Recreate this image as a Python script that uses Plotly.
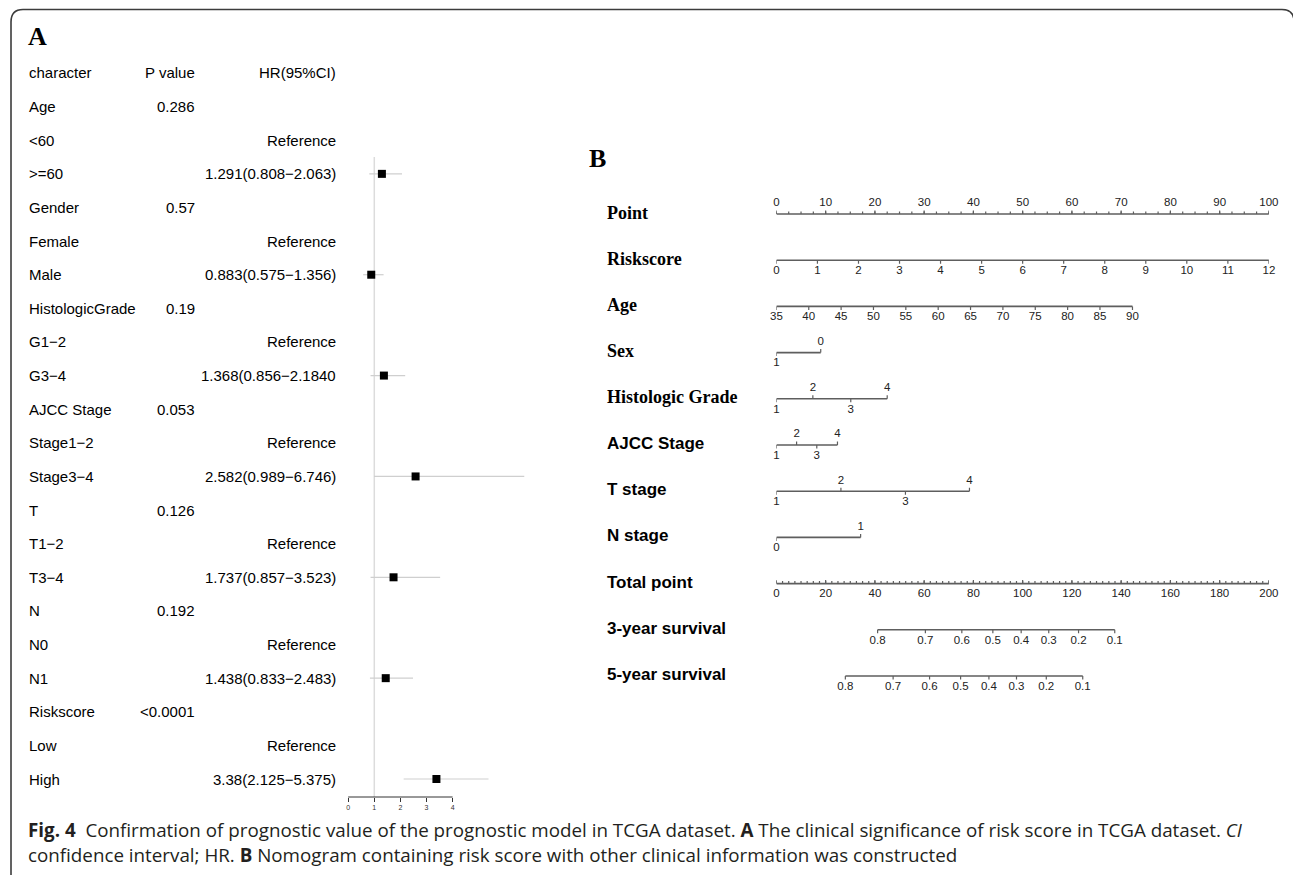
import numpy as np
import plotly.graph_objects as go

W, H = 1293, 875

# ---------------- Panel A : forest table data ----------------
row_labels = ["character", "Age", "<60", ">=60", "Gender", "Female", "Male",
              "HistologicGrade", "G1−2", "G3−4", "AJCC Stage", "Stage1−2", "Stage3−4",
              "T", "T1−2", "T3−4", "N", "N0", "N1", "Riskscore", "Low", "High"]
p_values = ["P value", "0.286", "", "", "0.57", "", "", "0.19", "", "", "0.053", "", "",
            "0.126", "", "", "0.192", "", "", "<0.0001", "", ""]
hr_labels = ["HR(95%CI)", "", "Reference", "1.291(0.808−2.063)", "", "Reference",
             "0.883(0.575−1.356)", "", "Reference", "1.368(0.856−2.1840", "", "Reference",
             "2.582(0.989−6.746)", "", "Reference", "1.737(0.857−3.523)", "", "Reference",
             "1.438(0.833−2.483)", "", "Reference", "3.38(2.125−5.375)"]
est_rows = [">=60", "Male", "G3−4", "Stage3−4", "T3−4", "N1", "High"]
hr = [1.291, 0.883, 1.368, 2.582, 1.737, 1.438, 3.38]
ci_low = [0.808, 0.575, 0.856, 0.989, 0.857, 0.833, 2.125]
ci_high = [2.063, 1.356, 2.184, 6.746, 3.523, 2.483, 5.375]
forest_ticks = [0, 1, 2, 3, 4]
ref_value = 1

# ---------------- Panel B : nomogram data ----------------
nomo_rows = ["Point", "Riskscore", "Age", "Sex", "Histologic Grade", "AJCC Stage",
             "T stage", "N stage", "Total point", "3-year survival", "5-year survival"]
point_ticks = [0, 10, 20, 30, 40, 50, 60, 70, 80, 90, 100]
riskscore_vals = ["0", "1", "2", "3", "4", "5", "6", "7", "8", "9", "10", "11", "12"]
riskscore_pts = [0, 8.33, 16.67, 25, 33.33, 41.67, 50, 58.33, 66.67, 75, 83.33, 91.67, 100]
age_vals = ["35", "40", "45", "50", "55", "60", "65", "70", "75", "80", "85", "90"]
age_pts = [0, 6.57, 13.14, 19.71, 26.28, 32.85, 39.42, 45.99, 52.56, 59.13, 65.7, 72.3]
sex_vals = ["1", "0"]
sex_pts = [0, 9.0]
grade_vals = ["1", "2", "3", "4"]
grade_pts = [0, 7.4, 15.1, 22.5]
ajcc_vals = ["1", "2", "3", "4"]
ajcc_pts = [0, 4.1, 8.2, 12.4]
t_vals = ["1", "2", "3", "4"]
t_pts = [0, 13.1, 26.2, 39.2]
n_vals = ["0", "1"]
n_pts = [0, 17.1]
total_ticks = [0, 20, 40, 60, 80, 100, 120, 140, 160, 180, 200]
surv_labels = ["0.8", "0.7", "0.6", "0.5", "0.4", "0.3", "0.2", "0.1"]
surv3_total = [41.1, 60.5, 75.3, 87.9, 99.4, 110.6, 122.7, 137.4]
surv5_total = [28.0, 47.4, 62.2, 74.8, 86.3, 97.5, 109.6, 124.4]

# ---------------- geometry helpers (layout only) ----------------
def xdom(a, b):
    return [a / W, b / W]

def ydom(top, bottom):
    return [1 - bottom / H, 1 - top / H]

# forest axes
FX0, FX_PX0, FX_SCALE = 290, 348.2, 26.1          # value 0 at 348.2 px
FX1 = 560
FY_TOP, FY_BOT, FY_ROW0, FY_STEP = 45, 797, 73, 33.62
f_xrange = [(FX0 - FX_PX0) / FX_SCALE, (FX1 - FX_PX0) / FX_SCALE]
f_yrange = [(FY_BOT - FY_ROW0) / FY_STEP, (FY_TOP - FY_ROW0) / FY_STEP]

# nomogram axes
NX0, NX1 = 776.4, 1268.9
NY_TOP, NY_BOT, NY_ROW0, NY_STEP = 180, 705, 214, 46.2
n_yrange = [(NY_BOT - NY_ROW0) / NY_STEP, (NY_TOP - NY_ROW0) / NY_STEP]
px_row = 1.0 / NY_STEP   # one pixel in row units

LINE_C = "#5e5e5e"
TXT_C = "#222222"

fig = go.Figure()

# ---------------- Panel A traces ----------------
ys = [row_labels.index(r) for r in est_rows]
fig.add_trace(go.Scatter(
    x=hr, y=ys, mode="markers", xaxis="x", yaxis="y", cliponaxis=False,
    marker=dict(symbol="square", size=8, color="black"),
    error_x=dict(type="data", symmetric=False,
                 array=[h - m for h, m in zip(ci_high, hr)],
                 arrayminus=[m - l for m, l in zip(hr, ci_low)],
                 width=0, color="#cfcfcf", thickness=1.2),
    hoverinfo="skip"))

shapes = []
# reference line at HR = 1
shapes.append(dict(type="line", xref="x", yref="y", x0=ref_value, x1=ref_value,
                   y0=2.5, y1=f_yrange[0], line=dict(color="#dcdcdc", width=1.5), layer="below"))
# forest axis line
shapes.append(dict(type="line", xref="x", yref="y domain", x0=forest_ticks[0], x1=forest_ticks[-1],
                   y0=0, y1=0, line=dict(color="#333333", width=1)))

annotations = []
tab_font = dict(family="Liberation Sans, Arial", size=15, color="black")
for i, (lab, pv, hl) in enumerate(zip(row_labels, p_values, hr_labels)):
    annotations.append(dict(x=27 / W, xref="paper", y=i, yref="y", text=lab,
                            xanchor="left", yanchor="middle", showarrow=False, font=tab_font))
    if pv:
        annotations.append(dict(x=197 / W, xref="paper", y=i, yref="y", text=pv,
                                xanchor="right", yanchor="middle", showarrow=False, font=tab_font))
    if hl:
        annotations.append(dict(x=338 / W, xref="paper", y=i, yref="y", text=hl,
                                xanchor="right", yanchor="middle", showarrow=False, font=tab_font))

# ---------------- Panel B traces ----------------
def seg(xs, row, length_px, direction):
    X, Y = [], []
    for v in xs:
        X += [v, v, None]
        Y += [row, row + direction * length_px * px_row, None]
    return X, Y

def nomo_row(row, pts, labels, sides, xaxis="x2", tick_dir=None, minor=None, minor_dir=None):
    # main line
    fig.add_trace(go.Scatter(x=[min(pts), max(pts)], y=[row, row], mode="lines",
                             xaxis=xaxis, yaxis="y2", line=dict(color=LINE_C, width=1.6),
                             cliponaxis=False, hoverinfo="skip"))
    # ticks
    X, Y = [], []
    for v, s in zip(pts, sides):
        d = tick_dir if tick_dir is not None else (-1 if s == "above" else 1)
        sx, sy = seg([v], row, 3.5, d)
        X += sx
        Y += sy
    if minor is not None:
        sx, sy = seg(minor, row, 2.5, minor_dir)
        X += sx
        Y += sy
    fig.add_trace(go.Scatter(x=X, y=Y, mode="lines", xaxis=xaxis, yaxis="y2",
                             line=dict(color=LINE_C, width=1.2), cliponaxis=False,
                             hoverinfo="skip"))
    # labels
    ly = [row + (-10.5 if s == "above" else 11) * px_row for s in sides]
    fig.add_trace(go.Scatter(x=pts, y=ly, mode="text", text=labels, xaxis=xaxis, yaxis="y2",
                             textposition="middle center", cliponaxis=False,
                             textfont=dict(family="Liberation Sans, Arial", size=11.5, color=TXT_C),
                             hoverinfo="skip"))

def alt(n, first="below"):
    other = "above" if first == "below" else "below"
    return [first if i % 2 == 0 else other for i in range(n)]

nomo_row(0, point_ticks, [str(v) for v in point_ticks], ["above"] * len(point_ticks),
         minor=np.arange(0, 100.01, 2.5), minor_dir=-1)
nomo_row(1, riskscore_pts, riskscore_vals, ["below"] * len(riskscore_pts))
nomo_row(2, age_pts, age_vals, ["below"] * len(age_pts))
nomo_row(3, sex_pts, sex_vals, alt(len(sex_pts)))
nomo_row(4, grade_pts, grade_vals, alt(len(grade_pts)))
nomo_row(5, ajcc_pts, ajcc_vals, alt(len(ajcc_pts)))
nomo_row(6, t_pts, t_vals, alt(len(t_pts)))
nomo_row(7, n_pts, n_vals, alt(len(n_pts)))
nomo_row(8, total_ticks, [str(v) for v in total_ticks], ["below"] * len(total_ticks),
         xaxis="x3", tick_dir=-1, minor=np.arange(0, 200.01, 2.5), minor_dir=-1)
nomo_row(9, surv3_total, surv_labels, ["below"] * len(surv3_total), xaxis="x3")
nomo_row(10, surv5_total, surv_labels, ["below"] * len(surv5_total), xaxis="x3")

for i, lab in enumerate(nomo_rows):
    if i < 5:
        f = dict(family="Liberation Serif, Times New Roman", size=18, color="black", weight="bold")
    else:
        f = dict(family="Liberation Sans, Arial", size=17, color="black", weight="bold")
    annotations.append(dict(x=605 / W, xref="paper", y=i - 1.5 * px_row, yref="y2", text=lab,
                            xanchor="left", yanchor="middle", showarrow=False, font=f))

# panel letters
letter_font = dict(family="Liberation Serif, Times New Roman", size=26, color="black", weight="bold")
annotations.append(dict(x=26 / W, y=1 - 36 / H, xref="paper", yref="paper", text="A",
                        xanchor="left", yanchor="middle", showarrow=False, font=letter_font))
annotations.append(dict(x=587 / W, y=1 - 158 / H, xref="paper", yref="paper", text="B",
                        xanchor="left", yanchor="middle", showarrow=False, font=letter_font))

# caption
cap_font = dict(family="Open Sans, Noto Sans", size=18.8, color="#231f20")
cap1 = ("<b>Fig. 4</b>\u00a0\u00a0Confirmation of prognostic value of the prognostic model in TCGA dataset. "
        "<b>A</b> The clinical significance of risk score in TCGA dataset. <i>CI</i>")
cap2 = ("confidence interval; HR. <b>B</b> Nomogram containing risk score with other clinical "
        "information was constructed")
annotations.append(dict(x=26 / W, y=1 - 830 / H, xref="paper", yref="paper", text=cap1,
                        xanchor="left", yanchor="middle", showarrow=False, font=cap_font))
annotations.append(dict(x=26 / W, y=1 - 855 / H, xref="paper", yref="paper", text=cap2,
                        xanchor="left", yanchor="middle", showarrow=False, font=cap_font))

# frame with rounded top corners
def P(px, py):
    return f"{px / W:.5f},{1 - py / H:.5f}"
path = (f"M {P(11, 880)} L {P(11, 22)} Q {P(11, 9.5)} {P(23, 9.5)} "
        f"L {P(1282, 9.5)} Q {P(1293, 9.5)} {P(1294, 20)} L {P(1296, 880)}")
shapes.append(dict(type="path", xref="paper", yref="paper", path=path,
                   line=dict(color="#3c3c3c", width=1.6)))

hidden = dict(visible=False, fixedrange=True)
fig.update_layout(
    width=W, height=H, margin=dict(l=0, r=0, t=0, b=0),
    paper_bgcolor="white", plot_bgcolor="rgba(0,0,0,0)", showlegend=False,
    xaxis=dict(domain=xdom(FX0, FX1), range=f_xrange, anchor="y",
               showgrid=False, zeroline=False, showline=False,
               tickmode="array", tickvals=forest_ticks, ticktext=[str(t) for t in forest_ticks],
               ticks="outside", ticklen=4, tickwidth=1, tickcolor="#333333",
               tickfont=dict(family="Liberation Sans, Arial", size=7, color="#333333"),
               fixedrange=True),
    yaxis=dict(domain=ydom(FY_TOP, FY_BOT), range=f_yrange, anchor="x", **hidden),
    xaxis2=dict(domain=xdom(NX0, NX1), range=[0, 100], anchor="y2", **hidden),
    xaxis3=dict(domain=xdom(NX0, NX1), range=[0, 200], anchor="y2", overlaying="x2", **hidden),
    yaxis2=dict(domain=ydom(NY_TOP, NY_BOT), range=n_yrange, anchor="x2", **hidden),
    shapes=shapes, annotations=annotations,
)

fig.write_html("out.html", config={"displayModeBar": False},
               post_script="document.body.style.margin='0';document.body.style.overflow='hidden';")
